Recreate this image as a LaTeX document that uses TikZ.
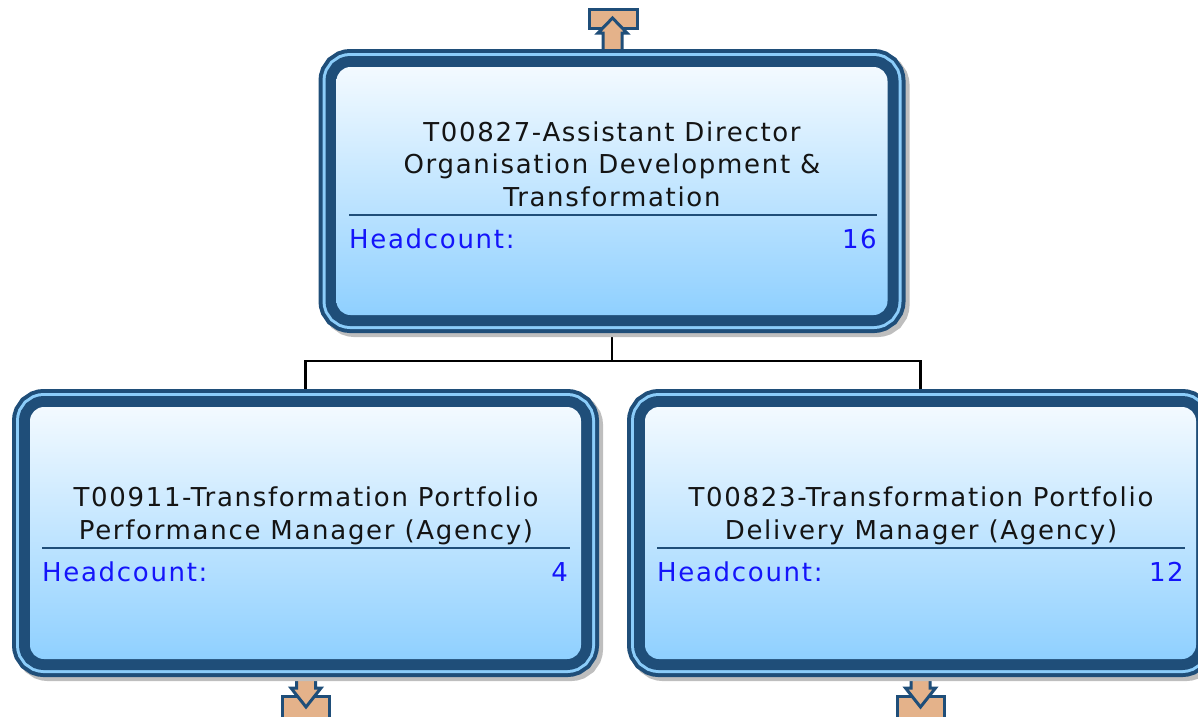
\documentclass[tikz,border=0pt]{standalone}
\usepackage{fontspec}
\setmainfont{DejaVu Sans}[LetterSpace=6.5]
\usetikzlibrary{backgrounds,calc}
\definecolor{dk}{RGB}{31,78,121}
\definecolor{lt}{RGB}{140,205,250}
\definecolor{topc}{RGB}{243,250,255}
\definecolor{botc}{RGB}{143,208,255}
\definecolor{arrtan}{RGB}{228,178,138}
\definecolor{hcblue}{RGB}{20,20,250}
\definecolor{shgray}{RGB}{190,190,190}
\definecolor{txt}{RGB}{20,20,20}
\tikzset{
  orgbox/.style={rounded corners=14pt, top color=topc, bottom color=botc,
    minimum width=551pt, minimum height=#1, inner sep=0pt,
    preaction={draw=shgray, line width=36pt, transform canvas={xshift=4pt,yshift=-4pt}},
    preaction={draw=dk, line width=36pt},
    preaction={draw=lt, line width=28pt},
    preaction={draw=dk, line width=22pt}},
  titletext/.style={align=center, inner sep=0pt, text=txt, font=\fontsize{26}{32.5}\selectfont},
  hctext/.style={inner sep=0pt, text=hcblue, font=\fontsize{26}{32.5}\selectfont},
  sepline/.style={draw=dk, line width=2.5pt},
  conn/.style={draw=black, line width=2.5pt},
  arrrect/.style={fill=arrtan, draw=dk, line width=3pt},
  arrshape/.style={fill=arrtan, draw=dk, line width=3pt, line join=miter},
}
\begin{document}
\begin{tikzpicture}[x=1pt,y=-1pt]
\useasboundingbox (0,0) rectangle (1198,716);
\clip (0,0) rectangle (1198,716);

% boxes
\node[orgbox=248pt] (top) at (612,191) {};
\node[orgbox=252pt] (left) at (305.5,533) {};
\node[orgbox=252pt] (right) at (920.5,533) {};

% connectors
\begin{pgfonlayer}{background}
  \draw[conn] (top.south) -- ++(0,46) coordinate (bus) -| (left.north);
  \draw[conn] (bus) -| (right.north);
  % up arrow at top
  \draw[arrrect] (589,9) rectangle (637,28);
  \draw[arrshape] (603,70) -- (603,33) -- (598,33) -- (612.5,18) -- (627,33) -- (622,33) -- (622,70) -- cycle;
  % down arrows
  \draw[arrrect] (282,696) rectangle (329,722);
  \draw[arrshape] (296.5,660) -- (296.5,688) -- (291,688) -- (306,707) -- (321,688) -- (315.5,688) -- (315.5,660) -- cycle;
  \draw[arrrect] (897,696) rectangle (944,722);
  \draw[arrshape] (911,660) -- (911,688) -- (905.5,688) -- (920.5,707) -- (935.5,688) -- (930,688) -- (930,660) -- cycle;
\end{pgfonlayer}

% top box text
\node[titletext] (ttop) at (612,164) {T00827-Assistant Director\\Organisation Development \&\\Transformation};
\draw[sepline] (349,215) -- (877,215);
\node[hctext, anchor=base west] (htop) at (349,248) {Headcount:};
\node[hctext, anchor=base east] (ntop) at (877,248) {16};

% left box text
\node[titletext] (tleft) at (306,516) {T00911-Transformation Portfolio\\Performance Manager (Agency)};
\draw[sepline] (42,548) -- (570,548);
\node[hctext, anchor=base west] (hleft) at (42,581) {Headcount:};
\node[hctext, anchor=base east] (nleft) at (568,581) {4};

% right box text
\node[titletext] (tright) at (921,516) {T00823-Transformation Portfolio\\Delivery Manager (Agency)};
\draw[sepline] (657,548) -- (1185,548);
\node[hctext, anchor=base west] (hright) at (657,581) {Headcount:};
\node[hctext, anchor=base east] (nright) at (1184,581) {12};
\end{tikzpicture}
\end{document}
